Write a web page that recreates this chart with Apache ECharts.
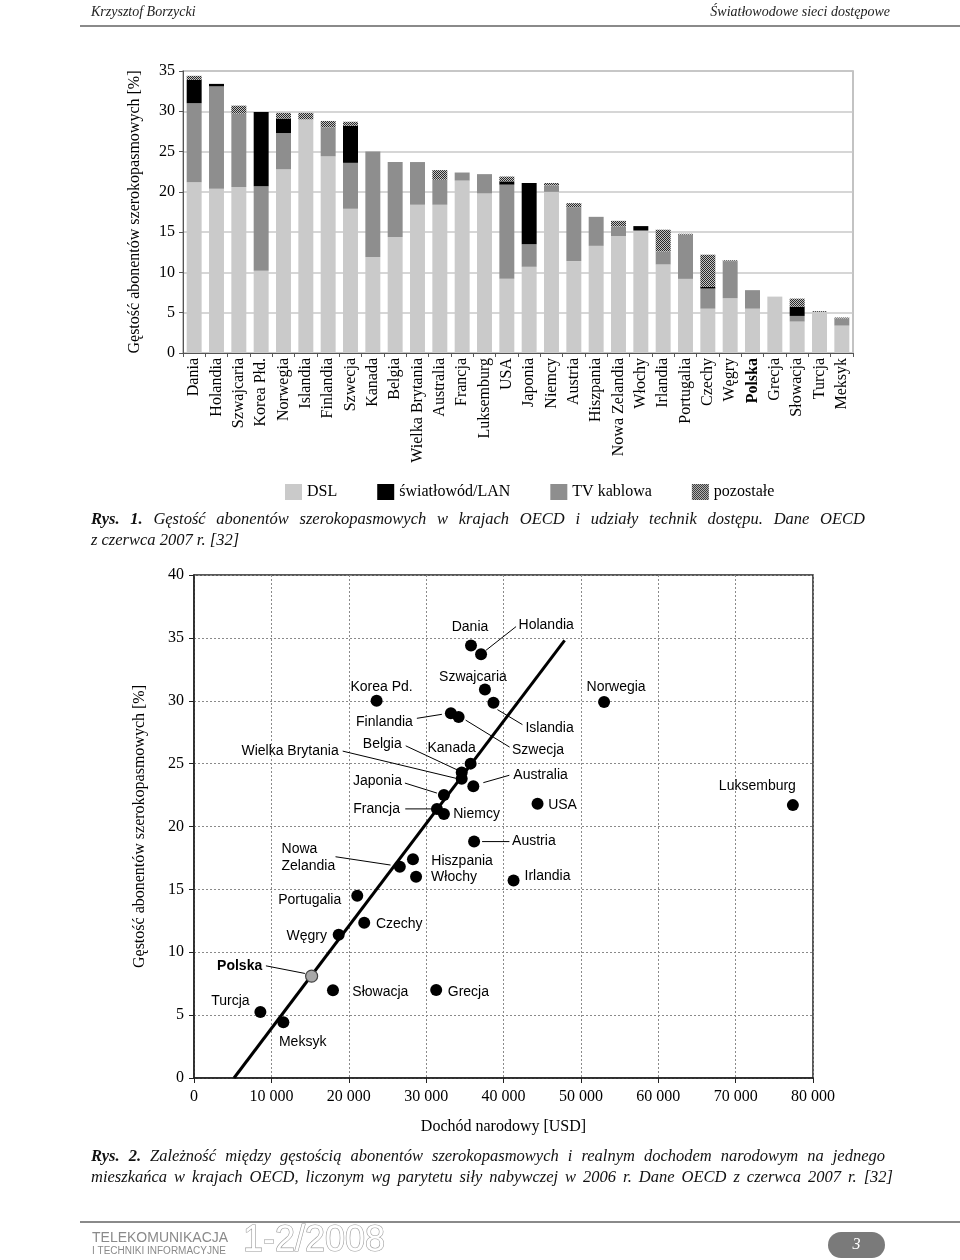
<!DOCTYPE html>
<html>
<head>
<meta charset="utf-8">
<script src="https://cdn.jsdelivr.net/npm/echarts@6/dist/echarts.min.js"></script>
<style>
html,body{margin:0;padding:0;background:#fff;}
#c{width:960px;height:1260px;}
</style>
</head>
<body>
<div id="c"></div>
<script>
// ---------- DATA ----------
const countries = ['Dania','Holandia','Szwajcaria','Korea Płd.','Norwegia','Islandia','Finlandia','Szwecja','Kanada','Belgia','Wielka Brytania','Australia','Francja','Luksemburg','USA','Japonia','Niemcy','Austria','Hiszpania','Nowa Zelandia','Włochy','Irlandia','Portugalia','Czechy','Węgry','Polska','Grecja','Słowacja','Turcja','Meksyk'];
const dsl   = [21.2,20.4,20.6,10.2,22.8,29.0,24.4,17.9,11.9,14.4,18.4,18.4,21.4,19.8,9.2,10.7,20.0,11.4,13.3,14.5,15.2,11.0,9.2,5.5,6.8,5.5,7.0,3.9,5.1,3.4];
const cable = [9.8,12.7,9.1,10.5,4.5,0,3.6,5.7,13.1,9.3,5.3,3.1,1.0,2.4,11.7,2.8,0.8,6.7,3.6,1.2,0,1.6,5.5,2.5,4.6,2.3,0,0.7,0,0.9];
const fiber = [2.9,0.3,0,9.2,1.8,0,0,4.6,0,0,0,0,0,0,0.4,7.6,0,0,0,0,0.55,0,0,0.2,0,0,0,1.15,0,0];
const other = [0.5,0,1.0,0,0.7,0.8,0.8,0.5,0,0,0,1.2,0,0,0.6,0,0.3,0.5,0,0.7,0,2.7,0.1,4.0,0.1,0,0,1.0,0.1,0.1];
const barTicks = [0,5,10,15,20,25,30,35];

const scNames   = ['Dania','Holandia','Szwajcaria','Islandia','Korea Pd.','Norwegia','Finlandia','Szwecja','Kanada','Belgia','Wielka Brytania','Australia','Japonia','Francja','Niemcy','USA','Luksemburg','Austria','Hiszpania','Nowa Zelandia','Włochy','Irlandia','Portugalia','Czechy','Węgry','Polska','Słowacja','Grecja','Turcja','Meksyk'];
const scIncome  = [35800,37100,37600,38700,23600,53000,33200,34200,35750,34600,34600,36100,32300,31400,32300,44400,77400,36200,28300,26600,28700,41300,21100,22000,18700,15200,17960,31300,8580,11550];
const scDensity = [34.4,33.7,30.9,29.85,30.0,29.9,29.0,28.7,25.0,24.3,23.8,23.2,22.5,21.4,21.0,21.8,21.7,18.8,17.4,16.8,16.0,15.7,14.5,12.35,11.4,8.1,6.97,7.0,5.25,4.43];
const trendX = [5170, 47900];
const trendY = [0, 34.8];
const xTicks = [0,10000,20000,30000,40000,50000,60000,70000,80000];
const yTicks = [0,5,10,15,20,25,30,35,40];

// ---------- STYLE / LAYOUT ----------
const SERIF = "'Liberation Serif','Times New Roman',serif";
const SANS = "'Liberation Sans',Arial,sans-serif";
const labelOffsets = {
  'Dania':{dx:-1,dy:-18},
  'Holandia':{dx:37.5,dy:-29,align:'left',line:[5,-4,35,-27.6]},
  'Szwajcaria':{dx:-12,dy:-12},
  'Korea Pd.':{dx:5,dy:-14},
  'Norwegia':{dx:12,dy:-15},
  'Islandia':{dx:32,dy:25.6,align:'left',line:[4,7,29,22]},
  'Finlandia':{dx:-38,dy:8.4,align:'right',line:[-34,5,-9,1]},
  'Szwecja':{dx:53.4,dy:32.6,align:'left',line:[7,3,51,30]},
  'Kanada':{dx:-19,dy:-15},
  'Belgia':{dx:-60,dy:-28,align:'right',line:[-56,-26.6,-4,-2.3]},
  'Wielka Brytania':{dx:-123,dy:-28,align:'right',line:[-119,-27.6,-4,0]},
  'Australia':{dx:40,dy:-11,align:'left',line:[10,-3.6,36,-11]},
  'Japonia':{dx:-42,dy:-13.6,align:'right',line:[-39,-12,-7,-2]},
  'Francja':{dx:-37,dy:0,align:'right',line:[-31.7,0,-6,0]},
  'Niemcy':{dx:9.3,dy:0.7,align:'left'},
  'USA':{dx:10.6,dy:1,align:'left'},
  'Luksemburg':{dx:-35.5,dy:-19.3},
  'Austria':{dx:38,dy:0,align:'left',line:[8,0,35.3,0]},
  'Nowa Zelandia':{dx:-118.3,dy:-9.4,align:'left',line:[-64.3,-10,-9.3,-1.7],text:'Nowa\nZelandia'},
  'Hiszpania':{dx:18.4,dy:1.7,align:'left'},
  'Włochy':{dx:15,dy:0.6,align:'left'},
  'Irlandia':{dx:11,dy:-4.3,align:'left'},
  'Portugalia':{dx:-16,dy:4.3,align:'right'},
  'Czechy':{dx:11.7,dy:1.6,align:'left'},
  'Węgry':{dx:-11.7,dy:1,align:'right'},
  'Polska':{dx:-49.4,dy:-10.3,align:'right',bold:true,line:[-45.7,-10.3,-6.7,-2.7]},
  'Słowacja':{dx:19.4,dy:1.7,align:'left'},
  'Grecja':{dx:11.6,dy:1.7,align:'left'},
  'Turcja':{dx:-30,dy:-11.3},
  'Meksyk':{dx:19.3,dy:19.4}
};

// hatched pattern
const pc = document.createElement('canvas');
pc.width = 4; pc.height = 4;
const pg = pc.getContext('2d');
pg.fillStyle = '#c4c4c4'; pg.fillRect(0,0,4,4);
pg.fillStyle = '#2a2a2a';
for (let i=0;i<4;i++) for (let j=0;j<4;j++) if ((i+j)%2===0) pg.fillRect(i,j,1,1);
const hatch = {image: pc, repeat: 'repeat'};

// text measuring for justified captions
const mc = document.createElement('canvas').getContext('2d');
function fontStr(bold, size){ return 'italic ' + (bold?'bold ':'') + size + "px 'Liberation Serif'"; }
function captionLine(parts, x0, x1, y, size, justify){
  const words = [];
  parts.forEach(p => p.text.split(' ').filter(w=>w.length).forEach(w => words.push({w, bold:p.bold})));
  let total = 0;
  words.forEach(o => { mc.font = fontStr(o.bold, size); o.width = mc.measureText(o.w).width; total += o.width; });
  mc.font = fontStr(false, size);
  const sp = mc.measureText(' ').width;
  const gap = justify ? (x1 - x0 - total) / (words.length - 1) : sp;
  const els = [];
  let x = x0;
  words.forEach(o => {
    els.push({type:'text', x:x, y:y, style:{text:o.w, font:fontStr(o.bold,size), fill:'#111', verticalAlign:'middle'}});
    x += o.width + gap;
  });
  return els;
}

const graphics = [];
// header
graphics.push({type:'text', x:91, y:12, style:{text:'Krzysztof Borzycki', font:"italic 14px 'Liberation Serif'", fill:'#222', verticalAlign:'middle'}});
graphics.push({type:'text', x:890, y:12, style:{text:'Światłowodowe sieci dostępowe', font:"italic 14px 'Liberation Serif'", fill:'#222', align:'right', verticalAlign:'middle'}});
graphics.push({type:'line', shape:{x1:80,y1:26,x2:960,y2:26}, style:{stroke:'#8a8a8a', lineWidth:2}});
// captions
graphics.push(...captionLine([{text:'Rys. 1.',bold:true},{text:'Gęstość abonentów szerokopasmowych w krajach OECD i udziały technik dostępu. Dane OECD',bold:false}], 91, 865, 520, 16.5, true));
graphics.push(...captionLine([{text:'z czerwca 2007 r. [32]',bold:false}], 91, 260, 541, 16.5, false));
graphics.push(...captionLine([{text:'Rys. 2.',bold:true},{text:'Zależność między gęstością abonentów szerokopasmowych i realnym dochodem narodowym na jednego',bold:false}], 91, 885, 1157, 16.5, true));
graphics.push(...captionLine([{text:'mieszkańca w krajach OECD, liczonym wg parytetu siły nabywczej w 2006 r. Dane OECD z czerwca 2007 r. [32]',bold:false}], 91, 893, 1178, 16.5, true));
// footer
graphics.push({type:'line', shape:{x1:80,y1:1222,x2:960,y2:1222}, style:{stroke:'#8a8a8a', lineWidth:2}});
graphics.push({type:'text', x:92, y:1238, style:{text:'TELEKOMUNIKACJA', font:"14px 'Liberation Sans'", fill:'#8a8a8a', verticalAlign:'middle'}});
graphics.push({type:'text', x:92, y:1251, style:{text:'I TECHNIKI INFORMACYJNE', font:"10px 'Liberation Sans'", fill:'#8a8a8a', verticalAlign:'middle'}});
graphics.push({type:'text', x:243, y:1241, style:{text:'1-2/2008', font:"36px 'Liberation Sans'", fill:'#fff', stroke:'#9a9a9a', lineWidth:1.2, verticalAlign:'middle'}});
graphics.push({type:'rect', shape:{x:828,y:1232,width:57,height:26,r:13}, style:{fill:'#7a7a7a'}});
graphics.push({type:'text', x:856.5, y:1245, style:{text:'3', font:"italic 16px 'Liberation Serif'", fill:'#fff', align:'center', verticalAlign:'middle'}});

const chart = echarts.init(document.getElementById('c'), null, {renderer:'canvas'});
const thousands = v => String(v).replace(/\B(?=(\d{3})+(?!\d))/g, ' ');

chart.setOption({
  animation: false,
  backgroundColor: '#fff',
  grid: [
    {left:183, top:71, width:670, height:282, show:true, borderColor:'#b0b0b0', borderWidth:1.5, backgroundColor:'transparent'},
    {left:194, top:575, width:619, height:503, show:true, borderColor:'#222', borderWidth:1.5, backgroundColor:'transparent'}
  ],
  legend: {
    data:['DSL','światłowód/LAN','TV kablowa','pozostałe'],
    left:280, top:479, itemWidth:17, itemHeight:16, itemGap:40, icon:'rect',
    textStyle:{fontFamily:SERIF, fontSize:16, color:'#000'}
  },
  xAxis: [
    {gridIndex:0, type:'category', data:countries,
     axisLine:{lineStyle:{color:'#555', width:1}},
     axisTick:{show:true, length:4, lineStyle:{color:'#555'}},
     axisLabel:{rotate:90, interval:0, margin:5, fontFamily:SERIF, fontSize:16, color:'#000',
       formatter: v => v==='Polska' ? '{b|Polska}' : v,
       rich:{b:{fontWeight:'bold', fontFamily:SERIF, fontSize:16, color:'#000'}}},
     splitLine:{show:false}},
    {gridIndex:1, type:'value', min:0, max:80000, interval:10000,
     name:'Dochód narodowy [USD]', nameLocation:'middle', nameGap:41,
     nameTextStyle:{fontFamily:SERIF, fontSize:16, color:'#000'},
     axisLine:{lineStyle:{color:'#222', width:1.5}},
     axisTick:{show:true, length:5, inside:false, lineStyle:{color:'#222'}},
     axisLabel:{margin:11, fontFamily:SERIF, fontSize:16, color:'#000', formatter:thousands},
     splitLine:{show:true, lineStyle:{color:'#8a8a8a', type:[2,2], width:1}}}
  ],
  yAxis: [
    {gridIndex:0, type:'value', min:0, max:35, interval:5,
     name:'Gęstość abonentów szerokopasmowych [%]', nameLocation:'middle', nameGap:40, nameRotate:90,
     nameTextStyle:{fontFamily:SERIF, fontSize:16, color:'#000'},
     axisLine:{show:true, lineStyle:{color:'#555', width:1}},
     axisTick:{show:true, length:4, lineStyle:{color:'#555'}},
     axisLabel:{margin:8, fontFamily:SERIF, fontSize:16, color:'#000'},
     splitLine:{show:true, lineStyle:{color:'#c8c8c8', width:1.5}}},
    {gridIndex:1, type:'value', min:0, max:40, interval:5,
     name:'Gęstość abonentów szerokopasmowych [%]', nameLocation:'middle', nameGap:46, nameRotate:90,
     nameTextStyle:{fontFamily:SERIF, fontSize:16, color:'#000'},
     axisLine:{show:true, lineStyle:{color:'#222', width:1.5}},
     axisTick:{show:true, length:5, lineStyle:{color:'#222'}},
     axisLabel:{margin:10, fontFamily:SERIF, fontSize:16, color:'#000'},
     splitLine:{show:true, lineStyle:{color:'#8a8a8a', type:[2,2], width:1}}}
  ],
  series: [
    {name:'DSL', type:'bar', stack:'b', xAxisIndex:0, yAxisIndex:0, data:dsl, barCategoryGap:'33%', itemStyle:{color:'#cacaca'}},
    {name:'TV kablowa', type:'bar', stack:'b', xAxisIndex:0, yAxisIndex:0, data:cable, itemStyle:{color:'#8e8e8e'}},
    {name:'światłowód/LAN', type:'bar', stack:'b', xAxisIndex:0, yAxisIndex:0, data:fiber, itemStyle:{color:'#000'}},
    {name:'pozostałe', type:'bar', stack:'b', xAxisIndex:0, yAxisIndex:0, data:other, itemStyle:{color:hatch}},
    {name:'trend', type:'line', xAxisIndex:1, yAxisIndex:1, data:trendX.map((x,i)=>[x,trendY[i]]),
     symbol:'none', lineStyle:{color:'#000', width:3}, z:3, silent:true},
    {name:'kraje', type:'scatter', xAxisIndex:1, yAxisIndex:1, symbolSize:12, z:4,
     data: scNames.map((n,i)=>({name:n, value:[scIncome[i], scDensity[i]],
       itemStyle: n==='Polska' ? {color:'#a8a8a8', borderColor:'#444', borderWidth:1.2, opacity:1} : {color:'#000', opacity:1}}))},
    {name:'etykiety', type:'custom', xAxisIndex:1, yAxisIndex:1, z:5, clip:false, silent:true,
     encode:{x:0, y:1},
     data: scNames.map((n,i)=>[scIncome[i], scDensity[i]]),
     renderItem: function(params, api){
       const name = scNames[params.dataIndex];
       const o = labelOffsets[name];
       const p = api.coord([api.value(0), api.value(1)]);
       const ch = [{type:'text', x:p[0]+o.dx, y:p[1]+o.dy,
         style:{text:o.text||name, font:(o.bold?'bold ':'')+"14px 'Liberation Sans'", fill:'#000',
           align:o.align||'center', verticalAlign:'middle', lineHeight:17}}];
       if (o.line) ch.push({type:'line', shape:{x1:p[0]+o.line[0], y1:p[1]+o.line[1], x2:p[0]+o.line[2], y2:p[1]+o.line[3]},
         style:{stroke:'#000', lineWidth:1}});
       return {type:'group', children:ch};
     }}
  ],
  graphic: graphics
});
</script>
</body>
</html>
